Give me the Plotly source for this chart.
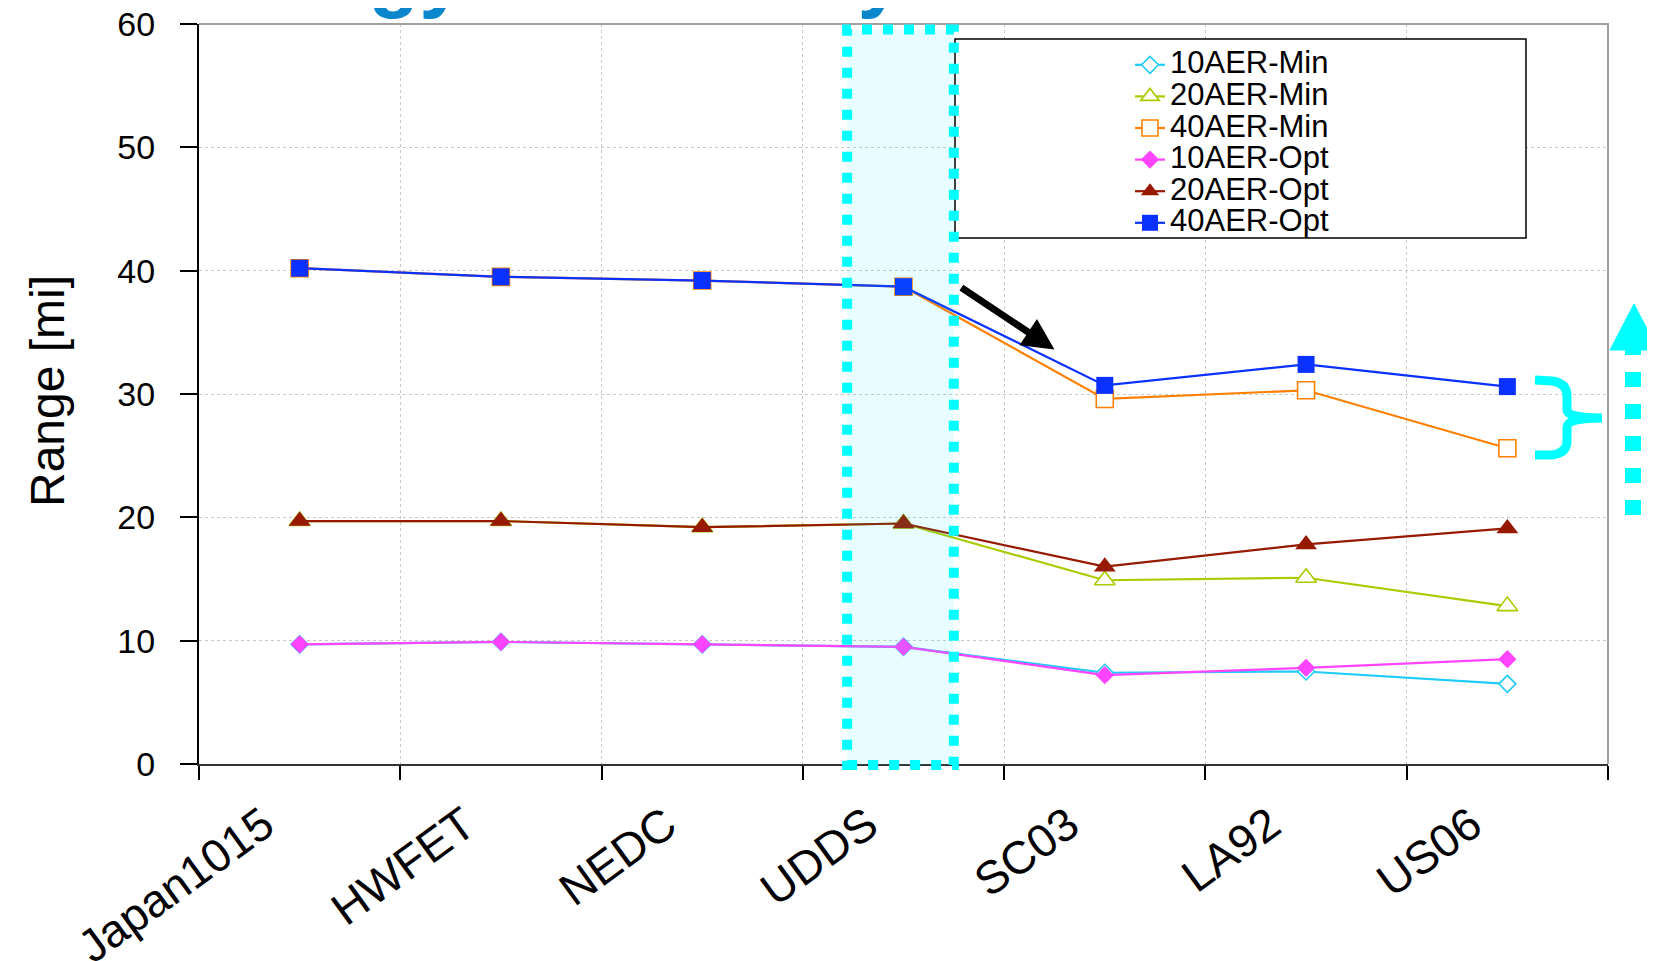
import plotly.graph_objects as go

# ---------------- data ----------------
categories = ["Japan1015", "HWFET", "NEDC", "UDDS", "SC03", "LA92", "US06"]
aer10_min = [9.7, 9.9, 9.7, 9.5, 7.4, 7.5, 6.5]
aer20_min = [19.7, 19.7, 19.2, 19.5, 14.9, 15.1, 12.8]
aer40_min = [40.2, 39.5, 39.2, 38.7, 29.6, 30.3, 25.6]
aer10_opt = [9.7, 9.9, 9.7, 9.5, 7.2, 7.8, 8.5]
aer20_opt = [19.7, 19.7, 19.2, 19.5, 16.0, 17.8, 19.1]
aer40_opt = [40.2, 39.5, 39.2, 38.7, 30.7, 32.4, 30.6]
y_ticks = [0, 10, 20, 30, 40, 50, 60]
series_names = ["10AER-Min", "20AER-Min", "40AER-Min", "10AER-Opt", "20AER-Opt", "40AER-Opt"]
highlight_cat = "UDDS"
page_title = "Energy Sensitivity"
y_title = "Range [mi]"

# ---------------- geometry / style ----------------
BODY = 8                      # default page margin around the plot div
W, H = 1655 - BODY, 961 - BODY
PL, PR, PT, PB = 199, 1608, 24, 764   # plot area on the page
ML, MT = PL - BODY, PT - BODY
MR, MB = 1655 - PR, 961 - PB
PW, PH = PR - PL, PB - PT
FONT = "Liberation Sans, Arial, sans-serif"
CYAN = "#00FFFF"


def fx(px):
    return (px - PL) / PW


def fy(py):
    return (PB - py) / PH


def cat_paper(idx, off):
    return (idx + 0.5 + off) / len(categories)


styles = [
    dict(color="#1ECBFA", symbol="diamond", size=13, filled=False),
    dict(color="#A8CC00", symbol="triangle-up", size=18, filled=False),
    dict(color="#FF8000", symbol="square", size=17, filled=False),
    dict(color="#FF44FF", symbol="diamond", size=14, filled=True),
    dict(color="#961900", symbol="triangle-up", size=19, filled=True),
    dict(color="#0A31FF", symbol="square", size=17, filled=True),
]
values = [aer10_min, aer20_min, aer40_min, aer10_opt, aer20_opt, aer40_opt]

fig = go.Figure()
for name, vals, st in zip(series_names, values, styles):
    fig.add_trace(go.Scatter(
        x=categories, y=vals,
        name=f'<span style="font-size:31px">{name}</span>',
        mode="lines+markers",
        line=dict(color=st["color"], width=2.2),
        marker=dict(symbol=st["symbol"], size=st["size"],
                    color=st["color"] if st["filled"] else "white",
                    line=dict(color=st["color"], width=1.6 if not st["filled"] else 0)),
    ))

hi = categories.index(highlight_cat)

shapes = []
# top / right plot frame (gray)
shapes.append(dict(type="path", xref="paper", yref="paper",
                   path="M 0,1 L 1,1 L 1,0", line=dict(color="#A0A0A0", width=2)))
# legend box
shapes.append(dict(type="rect", xref="paper", yref="paper",
                   x0=fx(955), x1=fx(1526), y0=fy(238), y1=fy(39),
                   fillcolor="white", line=dict(color="black", width=1.5)))
# highlighted cycle band
shapes.append(dict(type="rect", xref="paper", yref="paper",
                   x0=cat_paper(hi, -0.28), x1=cat_paper(hi, 0.25),
                   y0=fy(765), y1=fy(29.5),
                   fillcolor="rgba(0,235,255,0.09)",
                   line=dict(color=CYAN, width=10, dash="10px,11px")))
# brace
bp = [(1535, 380), (1552, 381), (1567, 383), (1567, 396), (1567, 410),
      (1567, 418), (1602, 418), (1567, 418), (1567, 427), (1567, 441),
      (1567, 453), (1552, 455), (1535, 455)]
P = [f"{fx(a):.5f},{fy(b):.5f}" for a, b in bp]
brace = (f"M {P[0]} L {P[1]} Q {P[2]} {P[3]} L {P[4]} Q {P[5]} {P[6]} "
         f"Q {P[7]} {P[8]} L {P[9]} Q {P[10]} {P[11]} L {P[12]}")
shapes.append(dict(type="path", xref="paper", yref="paper", path=brace,
                   line=dict(color=CYAN, width=9)))
# dotted up arrow outside the plot
shapes.append(dict(type="line", xref="paper", yref="paper",
                   x0=fx(1633), x1=fx(1633), y0=fy(515), y1=fy(350),
                   line=dict(color=CYAN, width=16, dash="15px,17px")))
tri = f"M {fx(1610):.5f},{fy(350):.5f} L {fx(1634):.5f},{fy(304):.5f} L {fx(1658):.5f},{fy(350):.5f} Z"
shapes.append(dict(type="path", xref="paper", yref="paper", path=tri,
                   fillcolor=CYAN, line=dict(color=CYAN, width=1)))

annotations = [
    dict(text=y_title, xref="paper", yref="paper", x=fx(47), y=fy(391),
         xanchor="center", yanchor="middle", textangle=-90, showarrow=False,
         font=dict(family=FONT, size=48, color="black")),
    dict(text=f"<b>{page_title}</b>", xref="paper", yref="paper", x=fx(183), y=fy(21),
         xanchor="left", yanchor="bottom", showarrow=False, borderpad=0,
         font=dict(family=FONT, size=83, color="#0B86CD")),
    dict(x=hi + 0.75, y=33.6, ax=hi + 0.28, ay=38.7, xref="x", yref="y",
         axref="x", ayref="y", text="", showarrow=True, arrowhead=2,
         arrowsize=0.9, arrowwidth=7, arrowcolor="black"),
]

fig.update_layout(
    width=W, height=H,
    margin=dict(l=ML, r=MR, t=MT, b=MB, pad=0),
    paper_bgcolor="white", plot_bgcolor="white",
    font=dict(family=FONT, color="black"),
    showlegend=True,
    legend=dict(x=fx(1130), y=fy(44), xanchor="left", yanchor="top",
                bgcolor="rgba(0,0,0,0)", borderwidth=0,
                font=dict(family=FONT, size=22, color="black"),
                tracegroupgap=0, itemsizing="trace"),
    xaxis=dict(type="category", categoryorder="array", categoryarray=categories,
               range=[-0.5, len(categories) - 0.5], tickson="boundaries",
               ticks="outside", ticklen=14, tickwidth=1.5, tickcolor="black",
               showgrid=True, gridcolor="#C8C8C8", griddash="dot", gridwidth=1,
               showline=True, linecolor="#333333", linewidth=2,
               tickangle=-36, tickfont=dict(family=FONT, size=46, color="black"),
               ticklabelshift=-36, ticklabelstandoff=14, ticklabeloverflow="allow",
               automargin=False, zeroline=False),
    yaxis=dict(range=[0, 60], tickvals=y_ticks, ticktext=[str(v) for v in y_ticks],
               ticks="outside", ticklen=17, tickwidth=1.5, tickcolor="black",
               showgrid=True, gridcolor="#C8C8C8", griddash="dot", gridwidth=1,
               showline=True, linecolor="black", linewidth=2, zeroline=False,
               tickfont=dict(family=FONT, size=34, color="black"),
               ticklabeloverflow="allow",
               automargin=False, ticklabelstandoff=18),
    shapes=shapes,
    annotations=annotations,
)

fig.write_html("out.html")
